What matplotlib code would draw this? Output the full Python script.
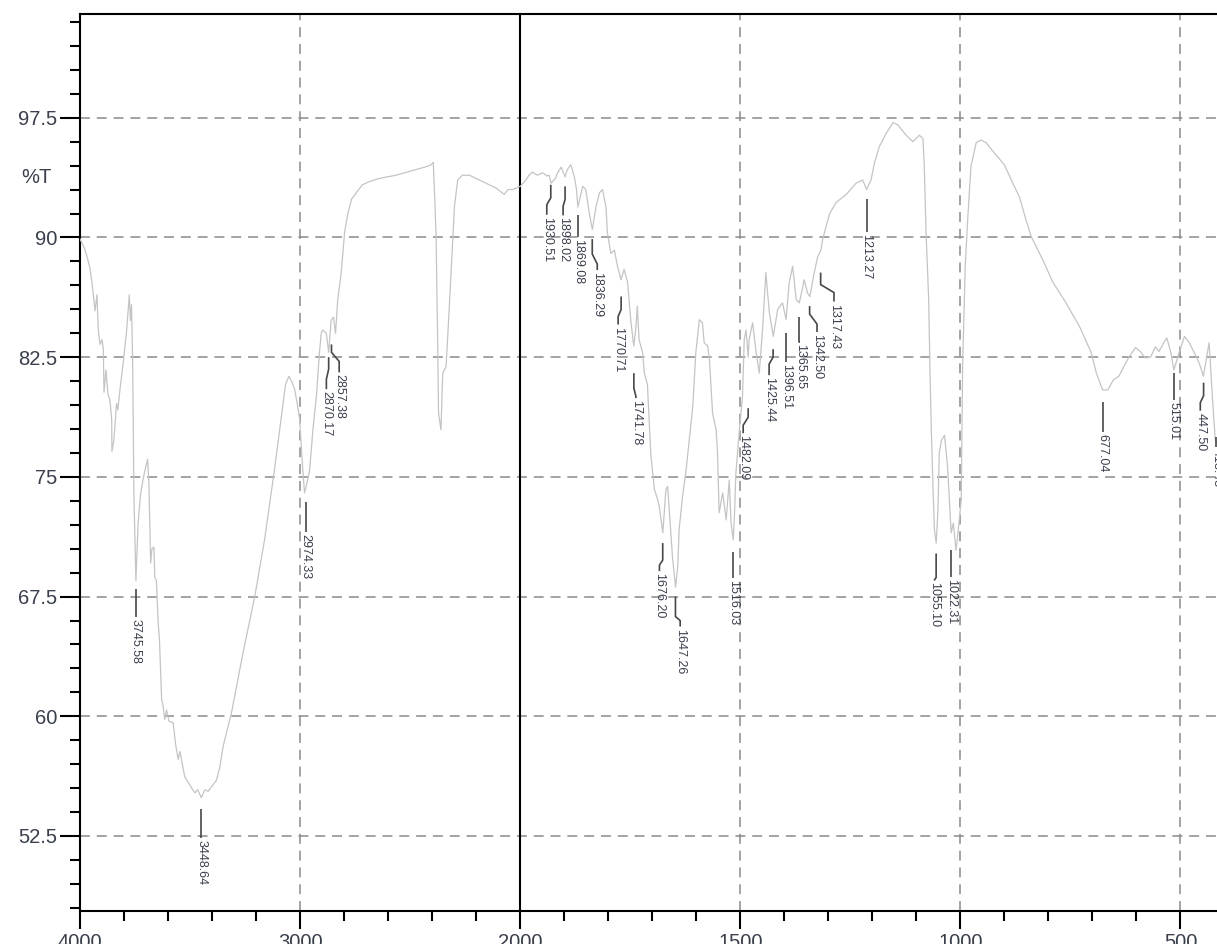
import numpy as np
import matplotlib
matplotlib.use("Agg")
import matplotlib.pyplot as plt

plt.rcParams["font.family"] = ["Liberation Sans", "DejaVu Sans"]

# FTIR spectrum: wavenumber (1/cm) and transmittance (%T)
wavenumber = [
    4000, 3982, 3970, 3955, 3946, 3940, 3932, 3923, 3917, 3909, 3900, 3894, 3891, 3882, 3873,
    3864, 3856, 3855, 3846, 3834, 3828, 3819, 3804, 3788, 3776, 3771, 3766, 3761, 3755, 3746,
    3736, 3725, 3714, 3705, 3693, 3687, 3679, 3673, 3664, 3660, 3653, 3645, 3639, 3629, 3624,
    3615, 3607, 3596, 3577, 3565, 3554, 3546, 3524, 3510, 3493, 3478, 3465, 3449, 3442, 3433,
    3418, 3401, 3380, 3365, 3350, 3312, 3259, 3206, 3161, 3116, 3084, 3066, 3051, 3039, 3025,
    3012, 3002, 2990, 2980, 2974, 2957, 2942, 2925, 2912, 2904, 2897, 2881, 2870, 2859, 2848,
    2839, 2829, 2813, 2798, 2783, 2766, 2745, 2717, 2685, 2640, 2564, 2488, 2435, 2405, 2395,
    2388, 2382, 2375, 2371, 2360, 2356, 2352, 2337, 2330, 2314, 2299, 2284, 2263, 2231, 2171,
    2110, 2073, 2055, 2035, 2018, 2000,
    1987, 1980, 1972, 1961, 1949, 1939, 1934, 1930, 1920, 1915, 1907, 1898, 1893, 1889, 1885,
    1877, 1872, 1869, 1858, 1851, 1843, 1836, 1828, 1820, 1813, 1805, 1802, 1794, 1786, 1779,
    1771, 1764, 1756, 1749, 1742, 1737, 1734, 1730, 1722, 1718, 1711, 1707, 1703, 1695, 1688,
    1684, 1680, 1676, 1669, 1665, 1661, 1654, 1647, 1642, 1639, 1631, 1623, 1616, 1608, 1601,
    1593, 1586, 1582, 1574, 1570, 1563, 1555, 1552, 1548, 1540, 1532, 1525, 1521, 1516, 1513,
    1510, 1502, 1495, 1491, 1487, 1482, 1480, 1472, 1464, 1457, 1449, 1442, 1434, 1425, 1415,
    1404, 1396, 1389, 1381, 1373, 1366, 1358, 1355, 1347, 1342, 1332, 1324, 1317, 1313, 1305,
    1297, 1282, 1259, 1237, 1222, 1213, 1203, 1195, 1184, 1168, 1153, 1142, 1123, 1108, 1093,
    1085, 1082, 1078, 1072, 1069, 1066, 1062, 1059, 1055, 1051, 1048, 1043, 1036, 1029, 1025,
    1021, 1016, 1010, 1007, 998, 995, 989, 983, 976, 964, 953, 942, 923, 900, 881,
    866, 851, 839, 813, 790, 760, 729, 703, 691, 677, 665, 652, 640, 629, 617,
    602, 591, 580, 568, 557, 549, 538, 531, 522, 515, 503, 491, 480, 469, 457,
    448, 435, 427, 421, 407,
]
transmittance = [
    89.9, 89.4, 88.9, 88.1, 87.2, 86.5, 85.4, 86.4, 84.2, 83.3, 83.6, 83.0, 80.3, 81.7, 80.2,
    79.8, 78.6, 76.6, 77.3, 79.6, 79.2, 80.4, 82.1, 84.2, 86.4, 84.8, 85.8, 82.5, 73.8, 68.5,
    72.1, 73.9, 74.8, 75.4, 76.1, 74.6, 69.6, 70.5, 70.6, 68.7, 68.5, 65.9, 64.8, 61.0, 60.8,
    59.8, 60.4, 59.7, 59.6, 58.2, 57.3, 57.8, 56.2, 55.9, 55.5, 55.2, 55.4, 54.9, 55.1, 55.4,
    55.3, 55.6, 56.0, 56.8, 58.1, 60.2, 64.0, 67.5, 71.1, 75.5, 78.9, 80.8, 81.3, 81.0, 80.5,
    79.5, 78.6, 75.9, 74.0, 74.3, 75.4, 77.9, 80.2, 82.8, 84.0, 84.2, 84.0, 82.8, 84.8, 85.0,
    84.0, 86.1, 87.8, 90.3, 91.5, 92.4, 92.8, 93.3, 93.5, 93.7, 93.9, 94.2, 94.4, 94.55, 94.7,
    92.4, 89.9, 83.6, 79.0, 77.95, 79.8, 81.5, 81.9, 83.6, 87.8, 91.9, 93.6, 93.9, 93.9, 93.5,
    93.1, 92.7, 93.0, 93.0, 93.1, 93.2,
    93.6, 93.9, 94.1, 93.9, 94.05, 93.85, 93.9, 93.4, 93.7, 94.05, 94.4, 93.8, 94.25, 94.4, 94.55,
    93.8, 93.0, 91.9, 93.2, 93.0, 91.5, 90.5, 91.9, 92.8, 93.0, 91.9, 90.3, 89.0, 89.2, 88.2,
    87.35, 88.0, 87.2, 84.85, 83.2, 84.4, 85.7, 83.6, 82.8, 81.5, 80.8, 78.6, 76.3, 74.2, 73.6,
    73.15, 72.3, 71.5, 74.2, 74.4, 72.75, 69.95, 68.1, 69.4, 71.7, 73.8, 75.45, 77.3, 79.4, 82.8,
    84.85, 84.65, 83.4, 83.2, 82.3, 79.0, 77.95, 76.7, 72.75, 74.0, 72.3, 74.8, 72.1, 71.05, 72.75,
    75.25, 77.95, 80.05, 83.6, 84.2, 82.5, 83.6, 84.65, 82.8, 81.5, 84.4, 87.8, 85.3, 83.8, 85.5,
    85.9, 84.85, 87.15, 88.2, 86.1, 85.9, 86.9, 87.35, 86.5, 86.3, 87.8, 88.8, 89.2, 89.85, 90.7,
    91.5, 92.2, 92.7, 93.4, 93.6, 93.0, 93.6, 94.7, 95.7, 96.55, 97.2, 97.05, 96.4, 96.0, 96.4,
    96.2, 94.45, 90.3, 86.1, 81.5, 77.9, 74.2, 71.7, 70.85, 72.9, 76.5, 77.3, 77.6, 75.6, 73.6,
    71.5, 72.1, 70.4, 71.05, 73.6, 81.9, 88.2, 91.3, 94.45, 95.95, 96.1, 95.95, 95.3, 94.55, 93.4,
    92.55, 91.1, 90.05, 88.6, 87.2, 85.9, 84.4, 82.8, 81.5, 80.45, 80.45, 81.1, 81.3, 81.9, 82.5,
    83.1, 82.85, 82.45, 82.5, 83.15, 82.85, 83.4, 83.7, 82.8, 81.7, 82.8, 83.8, 83.4, 82.8, 82.1,
    81.3, 83.4, 79.8, 77.3, 76.7,
]

# picked peaks
peak_wn = [3745.58, 3448.64, 2974.33, 2870.17, 2857.38, 1930.51, 1898.02, 1869.08, 1836.29,
           1770.71, 1741.78, 1676.20, 1647.26, 1516.03, 1482.09, 1425.44, 1396.51, 1365.65,
           1342.50, 1317.43, 1213.27, 1055.10, 1022.31, 677.04, 515.01, 447.50, 418.48]
peak_top = [68.0, 54.2, 73.4, 82.5, 83.3, 93.3, 93.2, 91.4, 89.9,
            86.3, 81.5, 70.85, 67.5, 70.3, 79.3, 83.0, 84.0, 85.0,
            85.7, 87.8, 92.4, 70.2, 70.4, 79.7, 81.5, 80.9, 77.5]

# leader layout in pixels: first drop, sideways shift, diagonal drop, second drop
lead_drop1 = [28, 29, 30, 12, 8, 13, 13, 22, 15, 13, 15, 17, 20, 26, 9, 8, 29, 25, 8, 12, 33, 24, 27, 30, 27, 13, 10]
lead_shift = [0, 0, 0, -2.3, 7.7, -4, -2, 0, 5, -3, 2, -3.3, 4.7, 0, -5, -4, 0, 1, 7.4, 13.3, 0, -2, 0, 0, 0, -3.3, 0]
lead_diag = [0, 0, 0, 10, 9, 7, 7, 0, 10, 7, 8, 5, 4, 0, 8, 7, 0, 0, 10, 8, 0, 3, 0, 0, 0, 7, 0]
lead_drop2 = [0, 0, 0, 10, 11, 10, 9, 0, 6, 8, 2, 6, 6, 0, 8, 11, 0, 0, 8, 9, 0, 0, 0, 0, 0, 8, 0]

y_major = [52.5, 60, 67.5, 75, 82.5, 90, 97.5]
y_major_labels = ["52.5", "60", "67.5", "75", "82.5", "90", "97.5"]
x_major = [4000, 3000, 2000, 1500, 1000, 500]
x_major_labels = ["4000", "3000", "2000", "1500", "1000", "500"]


def fwd(x):
    x = np.asarray(x, dtype=float)
    return np.where(x >= 2000, x, 2 * x - 2000)


def inv(u):
    u = np.asarray(u, dtype=float)
    return np.where(u >= 2000, u, (u + 2000) / 2)


W, H = 1217, 944
fig = plt.figure(figsize=(W / 100, H / 100), dpi=100)
ax = fig.add_axes([80 / W, (H - 911) / H, 1144.5 / W, 897 / H])
ax.set_xscale("function", functions=(fwd, inv))
ax.set_xlim(4000, 400)
ax.set_ylim(47.8, 104.0)

text_color = "#3a3f4c"
ax.set_yticks(y_major)
ax.set_yticklabels(y_major_labels)
ax.set_yticks(np.arange(48, 104, 1.5), minor=True)
ax.set_xticks(x_major)
ax.set_xticklabels(x_major_labels)
minor_x = list(range(3800, 3000, -200)) + list(range(2800, 2000, -200)) + \
    [v for v in range(1900, 399, -100) if v not in (1500, 1000, 500)]
ax.set_xticks(minor_x, minor=True)

ax.tick_params(axis="y", which="major", length=14.4, width=1.5, pad=2,
               labelsize=14.5, labelcolor=text_color, color="black")
ax.tick_params(axis="y", which="minor", length=7.2, width=1.5, color="black")
ax.tick_params(axis="x", which="major", length=13, width=1.5, pad=3,
               labelsize=14.5, labelcolor=text_color, color="black")
ax.tick_params(axis="x", which="minor", length=7.2, width=1.5, color="black")
for side in ("left", "top", "bottom", "right"):
    ax.spines[side].set_linewidth(1.5)

grid_kw = dict(color="#8a8a8a", lw=1.1, linestyle=(0, (6.5, 4.5)), zorder=1)
for yv in y_major:
    ax.axhline(yv, **grid_kw)
for xv in (3000, 1500, 1000, 500):
    ax.axvline(xv, **grid_kw)
ax.axvline(2000, color="black", lw=1.5, zorder=2)

ax.plot(wavenumber, transmittance, color="#c4c4c4", lw=0.9, zorder=3)

ax.text(-0.025, 93.75, "%T", transform=ax.get_yaxis_transform(), ha="right", va="center",
        fontsize=14.5, color=text_color)

to_disp = ax.transData
to_data = ax.transData.inverted()
for i, wn in enumerate(peak_wn):
    x0, y0 = to_disp.transform((wn, peak_top[i]))
    pts = [(x0, y0)]
    y = y0 - lead_drop1[i]
    pts.append((x0, y))
    x = x0 + lead_shift[i]
    y = y - lead_diag[i]
    pts.append((x, y))
    y = y - lead_drop2[i]
    pts.append((x, y))
    data_pts = to_data.transform(pts)
    ax.plot(data_pts[:, 0], data_pts[:, 1], color="#474747", lw=1.2, zorder=4,
            solid_capstyle="butt")
    tx, ty = to_data.transform((x, y - 2))
    ax.text(tx, ty, f"{wn:.2f}", rotation=270, ha="center", va="top",
            fontsize=9, color=text_color, zorder=5)

fig.savefig("out.png", dpi=100)
